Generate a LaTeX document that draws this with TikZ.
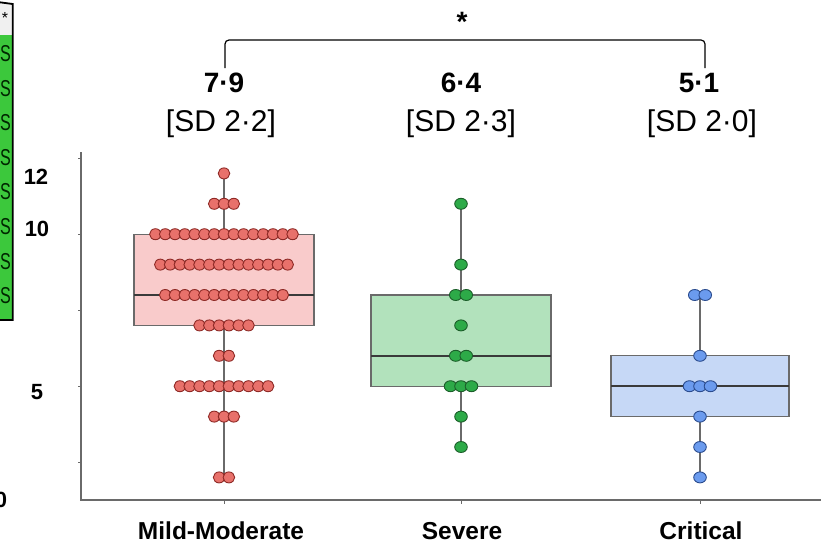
\documentclass[tikz,border=0pt]{standalone}
\usepackage{fontspec}
\setmainfont{Liberation Sans}
\usetikzlibrary{positioning}

\definecolor{axisgray}{HTML}{6A6A6A}
\definecolor{medgray}{HTML}{3A3A3A}
\definecolor{mildfill}{HTML}{F9CBCB}
\definecolor{milddot}{HTML}{E8716B}
\definecolor{mildedge}{HTML}{8E2A26}
\definecolor{sevfill}{HTML}{B2E2BC}
\definecolor{sevdot}{HTML}{2DAA48}
\definecolor{sevedge}{HTML}{1C5E2A}
\definecolor{critfill}{HTML}{C6D8F6}
\definecolor{critdot}{HTML}{6B9BEE}
\definecolor{critedge}{HTML}{2B4C8E}
\definecolor{tablegreen}{HTML}{3CC83C}

\begin{document}
\begin{tikzpicture}[x=1pt, y=-1pt,
  box/.style={draw=axisgray, line width=1.2pt},
  whisker/.style={draw=axisgray, line width=1.4pt},
  median/.style={draw=medgray, line width=2.2pt},
  axis/.style={draw=axisgray, line width=2pt},
  cat/.style={font=\bfseries\fontsize{24.5}{24.5}\selectfont},
  meanlab/.style={font=\bfseries\fontsize{28}{28}\selectfont},
  sdlab/.style={font=\fontsize{30}{30}\selectfont},
  ticklab/.style={font=\bfseries\fontsize{22}{22}\selectfont}]

\clip (0,0) rectangle (821,549);

% cropped table on the left
\fill[gray!12] (-10,3) rectangle (12.7,35);
\fill[tablegreen] (-10,35) rectangle (12.7,320);
\draw[line width=1.8pt] (-10,1) -- (12.7,4) -- (12.7,320) -- (-10,320);
\node[font=\fontsize{16}{16}\selectfont] (tstar) at (5,18) {*};
\foreach \k in {0,...,7}
  \node[font=\fontsize{23}{23}\selectfont, text=black!85!green, inner sep=0pt]
    (s\k) at (5.5,{53.5+34.6*\k}) {\scalebox{0.7}[1]{S}};

% axis labels
\node[ticklab] (l12) at (36,177) {12};
\node[ticklab] (l10) at (37,229) {10};
\node[ticklab] (l5) at (37,392) {5};
\node[ticklab] (l0) at (1,500) {0};

% axes
\draw[axis] (81,152) -- (81,500) -- (821,500);
\foreach \t in {158,234,310,386,462}
  \draw[axisgray, line width=1pt] (78,\t) -- (81,\t);
\foreach \t in {224,461,700}
  \draw[axisgray, line width=1pt] (\t,500) -- (\t,504);

% significance bracket
\node[font=\bfseries\fontsize{28}{28}\selectfont] (star) at (462,22) {*};
\coordinate (brL) at (225,68);
\coordinate (brR) at (705,68);
\draw[line width=1.2pt, rounded corners=4pt] (brL) -- (225,40) -- (705,40) -- (brR);

% means and SDs
\node[meanlab] (m1) at (224,83) {7·9};
\node[meanlab] (m2) at (461,83) {6·4};
\node[meanlab] (m3) at (699,83) {5·1};
\node[sdlab] (sd1) at (221,124) {[SD 2·2]};
\node[sdlab] (sd2) at (461,124) {[SD 2·3]};
\node[sdlab] (sd3) at (702,124) {[SD 2·0]};

% categories
\node[cat] (c1) at (221,531) {Mild-Moderate};
\node[cat] (c2) at (462,531) {Severe};
\node[cat] (c3) at (701,531) {Critical};

\begin{scope}[yshift=-538.2pt, y=30.4pt]
  % Mild-Moderate
  \draw[whisker] (224,2) -- (224,12);
  \draw[box, fill=mildfill] (134,7) rectangle (314,10);
  \draw[median] (134,8) -- (314,8);
  \foreach \v/\n in {12/1,11/3,10/15,9/14,8/13,7/6,6/2,5/10,4/3,2/2}
    \foreach \i in {1,...,\n}
      \filldraw[fill=milddot, draw=mildedge, line width=0.9pt]
        ({224+(\i-(\n+1)/2)*9.8},\v) ellipse (5.8pt and 5.5pt);
  % Severe
  \draw[whisker] (461,3) -- (461,11);
  \draw[box, fill=sevfill] (371,5) rectangle (551,8);
  \draw[median] (371,6) -- (551,6);
  \foreach \v/\n in {11/1,9/1,8/2,7/1,6/2,5/3,4/1,3/1}
    \foreach \i in {1,...,\n}
      \filldraw[fill=sevdot, draw=sevedge, line width=0.9pt]
        ({461+(\i-(\n+1)/2)*10.5},\v) ellipse (6.3pt and 5.5pt);
  % Critical
  \draw[whisker] (700,2) -- (700,8);
  \draw[box, fill=critfill] (611,4) rectangle (789,6);
  \draw[median] (611,5) -- (789,5);
  \foreach \v/\n in {8/2,6/1,5/3,4/1,3/1,2/1}
    \foreach \i in {1,...,\n}
      \filldraw[fill=critdot, draw=critedge, line width=0.9pt]
        ({700+(\i-(\n+1)/2)*10.5},\v) ellipse (6.3pt and 5.5pt);
\end{scope}
\end{tikzpicture}
\end{document}
